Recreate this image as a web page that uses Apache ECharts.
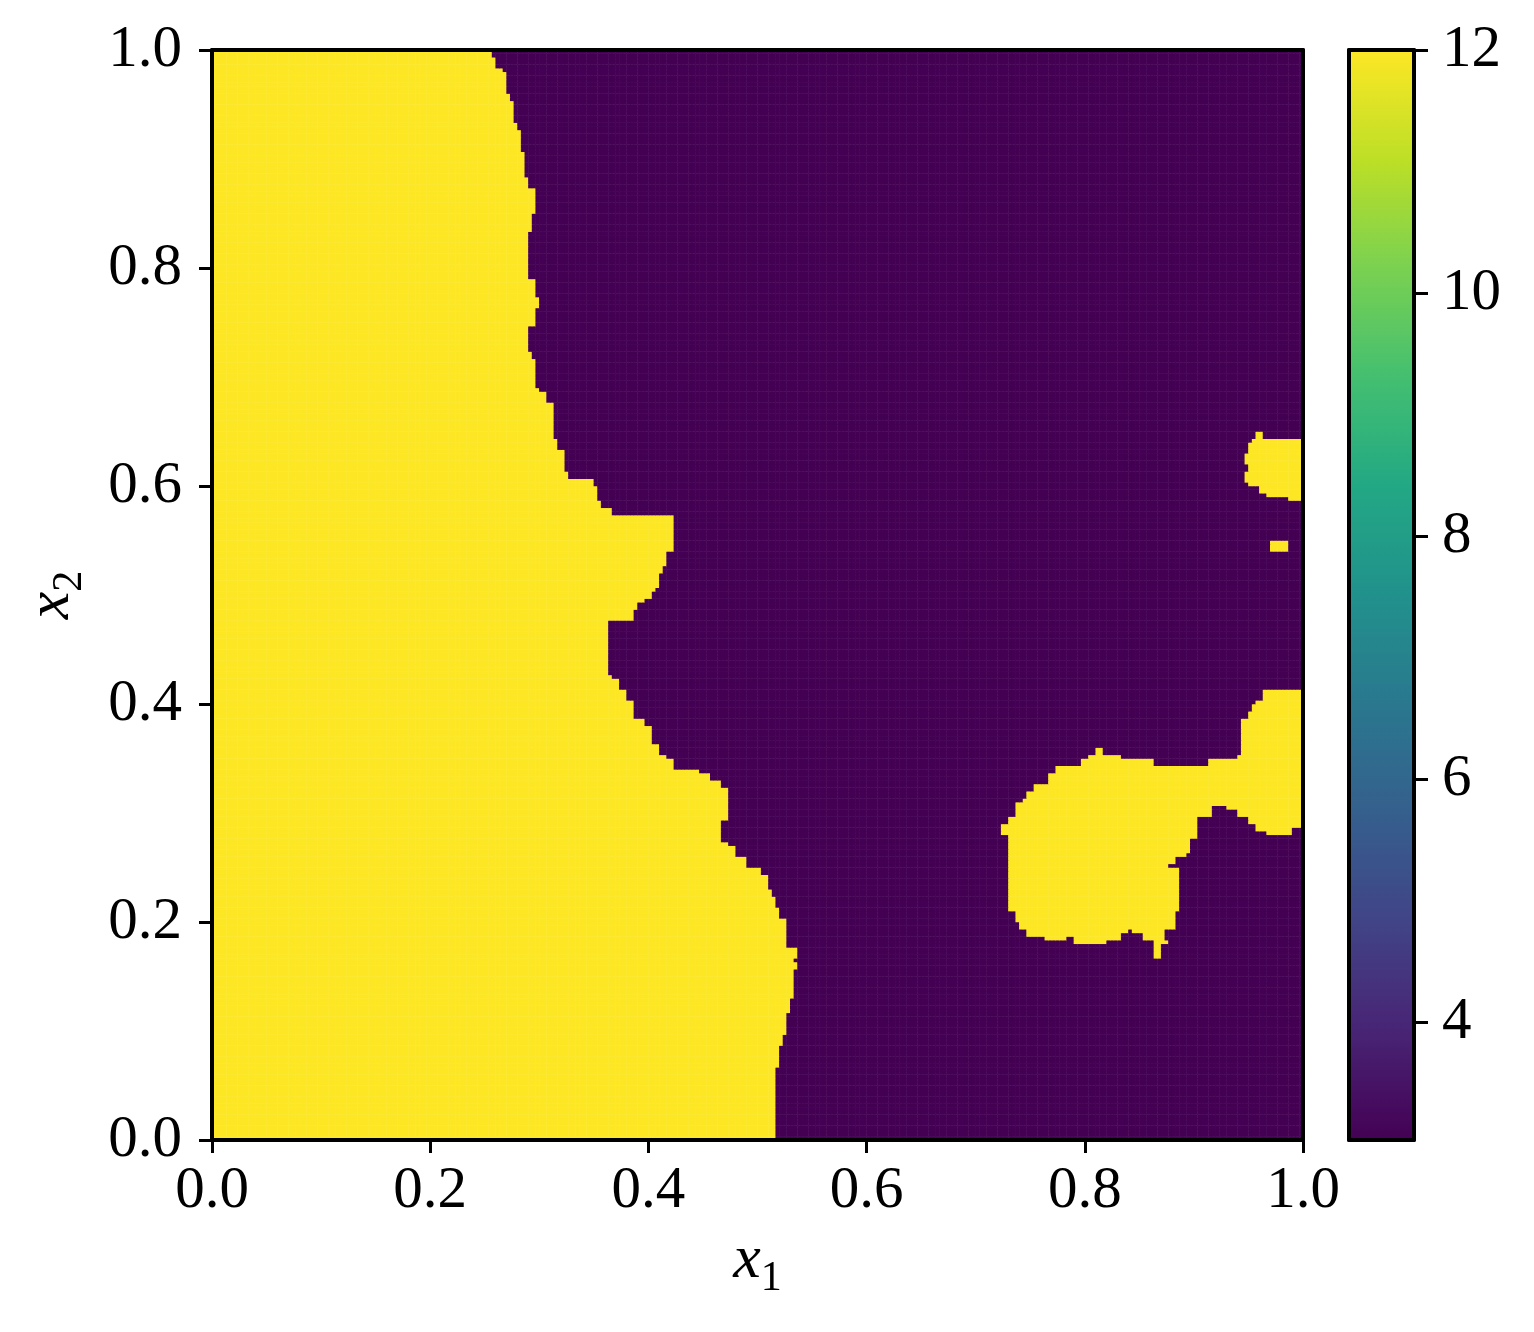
<!DOCTYPE html>
<html><head><meta charset="utf-8">
<script src="https://cdn.jsdelivr.net/npm/echarts@6/dist/echarts.min.js"></script>
<style>html,body{margin:0;padding:0;background:#fff}#c{width:1534px;height:1332px}</style>
</head><body><div id="c"></div>
<script>
// ---------- data ----------
const GRID_N = 300;            // cells per side of the field
const LOW_VALUE = 3.03;        // purple region value
const HIGH_VALUE = 12;         // yellow region value
const xTickValues = [0, 0.2, 0.4, 0.6, 0.8, 1.0];
const yTickValues = [0, 0.2, 0.4, 0.6, 0.8, 1.0];
const colorbarTicks = [4, 6, 8, 10, 12];
const viridis = ['#440154','#482475','#414487','#355f8d','#2a788e','#21918c','#22a884','#44bf70','#7ad151','#bddf26','#fde725'];

// left yellow region: from y (upward to next entry) the region spans x in [0, edge]
const leftEdge = [
[0.000,0.515],[0.028,0.518],[0.057,0.516],[0.067,0.519],[0.087,0.522],[0.098,0.525],[0.117,0.530],[0.131,0.533],
[0.156,0.536],[0.162,0.533],[0.168,0.535],[0.177,0.528],[0.195,0.525],[0.205,0.521],[0.214,0.518],[0.223,0.512],
[0.231,0.510],[0.245,0.502],[0.251,0.489],[0.259,0.479],[0.269,0.472],[0.275,0.468],[0.294,0.472],[0.324,0.466],
[0.330,0.455],[0.337,0.447],[0.341,0.423],[0.349,0.415],[0.355,0.411],[0.365,0.404],[0.379,0.397],[0.388,0.386],
[0.404,0.381],[0.413,0.374],[0.422,0.368],[0.428,0.364],[0.477,0.386],[0.486,0.390],[0.493,0.395],[0.498,0.402],
[0.503,0.406],[0.507,0.410],[0.520,0.413],[0.528,0.418],[0.539,0.423],[0.572,0.365],[0.580,0.358],[0.587,0.354],
[0.599,0.349],[0.606,0.344],[0.608,0.326],[0.613,0.322],[0.635,0.318],[0.645,0.314],[0.665,0.312],[0.677,0.308],
[0.686,0.301],[0.691,0.296],[0.718,0.293],[0.723,0.289],[0.746,0.296],[0.762,0.299],[0.773,0.295],[0.789,0.291],
[0.798,0.289],[0.826,0.290],[0.835,0.292],[0.849,0.295],[0.872,0.291],[0.883,0.288],[0.906,0.284],[0.927,0.280],
[0.934,0.276],[0.952,0.272],[0.961,0.269],[0.980,0.266],[0.985,0.261],[0.993,0.258]
];

// right-side yellow blobs: [yLow, yHigh, [x0, x1, x0, x1, ...]]
const topRightBlob = [
[0.6450,0.6514,[0.958,0.962]],
[0.6404,0.6450,[0.953,1]],
[0.6303,0.6404,[0.950,1]],
[0.6211,0.6303,[0.947,1]],
[0.6147,0.6211,[0.950,1]],
[0.6037,0.6147,[0.947,1]],
[0.5991,0.6037,[0.951,1]],
[0.5945,0.5991,[0.961,1]],
[0.5899,0.5945,[0.967,1]],
[0.5872,0.5899,[0.986,1]],
[0.5385,0.5500,[0.970,0.985]]
];
const bottomRightBlob = [
[0.4128,0.4147,[0.967,1]],
[0.4037,0.4128,[0.962,1]],
[0.3991,0.4037,[0.958,1]],
[0.3945,0.3991,[0.953,1]],
[0.3881,0.3945,[0.949,1]],
[0.3606,0.3881,[0.942,1]],
[0.3550,0.3606,[0.809,0.817,0.942,1]],
[0.3532,0.3550,[0.805,0.834,0.942,1]],
[0.3514,0.3532,[0.805,0.834,0.940,1]],
[0.3495,0.3514,[0.805,0.853,0.940,1]],
[0.3486,0.3495,[0.805,0.864,0.940,1]],
[0.3450,0.3486,[0.798,0.864,0.915,1]],
[0.3422,0.3450,[0.798,0.874,0.887,1]],
[0.3367,0.3422,[0.773,1]],
[0.3257,0.3367,[0.768,1]],
[0.3211,0.3257,[0.754,1]],
[0.3147,0.3211,[0.748,1]],
[0.3092,0.3147,[0.743,1]],
[0.3055,0.3092,[0.738,1]],
[0.3028,0.3055,[0.738,0.918,0.930,1]],
[0.2982,0.3028,[0.738,0.918,0.940,1]],
[0.2963,0.2982,[0.730,0.918,0.940,1]],
[0.2954,0.2963,[0.730,0.918,0.950,1]],
[0.2890,0.2954,[0.730,0.903,0.950,1]],
[0.2862,0.2890,[0.725,0.903,0.958,1]],
[0.2817,0.2862,[0.725,0.903,0.958,0.991]],
[0.2798,0.2817,[0.725,0.903,0.967,0.991]],
[0.2771,0.2798,[0.730,0.903]],
[0.2642,0.2771,[0.730,0.896]],
[0.2596,0.2642,[0.730,0.894]],
[0.2550,0.2596,[0.730,0.883]],
[0.2505,0.2550,[0.730,0.876]],
[0.2413,0.2505,[0.730,0.885]],
[0.2110,0.2413,[0.731,0.885]],
[0.2000,0.2110,[0.736,0.884]],
[0.1945,0.2000,[0.741,0.883]],
[0.1927,0.1945,[0.741,0.872]],
[0.1899,0.1927,[0.748,0.839,0.844,0.872]],
[0.1881,0.1899,[0.748,0.832,0.853,0.872]],
[0.1835,0.1881,[0.764,0.782,0.789,0.832,0.853,0.872]],
[0.1817,0.1835,[0.764,0.782,0.789,0.819,0.853,0.872]],
[0.1789,0.1817,[0.789,0.819,0.862,0.876]],
[0.1670,0.1789,[0.862,0.871]]
];

// ---------- build the cell table ----------
const bands = [];
leftEdge.forEach((e, k) => {
  const yHi = k + 1 < leftEdge.length ? leftEdge[k + 1][0] : 1.0001;
  bands.push([e[0], yHi, [0, e[1]]]);
});
topRightBlob.forEach(b => bands.push(b));
bottomRightBlob.forEach(b => bands.push(b));

const cats = [];
for (let i = 0; i < GRID_N; i++) cats.push(String(i));
const cells = [];
for (let j = 0; j < GRID_N; j++) {
  const y = (j + 0.5) / GRID_N;
  for (let i = 0; i < GRID_N; i++) {
    const x = (i + 0.5) / GRID_N;
    let yellow = false;
    for (const b of bands) {
      if (y >= b[0] && y < b[1]) {
        const xs = b[2];
        for (let k = 0; k < xs.length; k += 2) {
          if (x >= xs[k] && x < xs[k + 1] + 1e-9) { yellow = true; break; }
        }
      }
      if (yellow) break;
    }
    cells.push([i, j, yellow ? HIGH_VALUE : LOW_VALUE]);
  }
}

// ---------- chart ----------
const FONT = 'Liberation Serif';
const LW = 4;
const plot = {left: 212, top: 50, width: 1091, height: 1090};
const cbar = {left: 1349, top: 50, width: 65, height: 1090};
const lineOnly = (extra) => Object.assign({
  axisLine: {show: true, onZero: false, lineStyle: {color: '#000', width: LW}},
  axisTick: {show: false}, axisLabel: {show: false}, splitLine: {show: false}, z: 10
}, extra);

const chart = echarts.init(document.getElementById('c'), null, {renderer: 'canvas'});
chart.setOption({
  animation: false,
  backgroundColor: '#fff',
  textStyle: {fontFamily: FONT},
  grid: [
    Object.assign({}, plot),
    Object.assign({}, plot),
    Object.assign({}, cbar)
  ],
  xAxis: [
    {gridIndex: 0, type: 'category', data: cats, show: false, boundaryGap: true},
    {gridIndex: 1, type: 'value', min: 0, max: 1, interval: 0.2, position: 'bottom', z: 10,
     axisLine: {show: true, onZero: false, lineStyle: {color: '#000', width: LW}},
     axisTick: {show: true, inside: false, length: 13, lineStyle: {color: '#000', width: 3}},
     axisLabel: {show: true, margin: 22, color: '#000', fontFamily: FONT, fontSize: 59,
                 formatter: v => v.toFixed(1)},
     splitLine: {show: false},
     name: '{i|x}{s|1}', nameLocation: 'middle', nameGap: 90,
     nameTextStyle: {rich: {
       i: {fontFamily: FONT, fontStyle: 'italic', fontSize: 62, color: '#000', padding: [0, 0, 8, 0], verticalAlign: 'top'},
       s: {fontFamily: FONT, fontSize: 42, color: '#000', verticalAlign: 'bottom'}
     }}},
    lineOnly({gridIndex: 1, type: 'value', min: 0, max: 1, position: 'top'}),
    lineOnly({gridIndex: 2, type: 'value', min: 0, max: 1, position: 'bottom'}),
    lineOnly({gridIndex: 2, type: 'value', min: 0, max: 1, position: 'top'})
  ],
  yAxis: [
    {gridIndex: 0, type: 'category', data: cats, show: false, boundaryGap: true},
    {gridIndex: 1, type: 'value', min: 0, max: 1, interval: 0.2, position: 'left', z: 10,
     axisLine: {show: true, onZero: false, lineStyle: {color: '#000', width: LW}},
     axisTick: {show: true, inside: false, length: 13, lineStyle: {color: '#000', width: 3}},
     axisLabel: {show: true, margin: 30, color: '#000', fontFamily: FONT, fontSize: 59,
                 formatter: v => v.toFixed(1)},
     splitLine: {show: false},
     name: '{i|x}{s|2}', nameLocation: 'middle', nameGap: 121, nameRotate: 90,
     nameTextStyle: {rich: {
       i: {fontFamily: FONT, fontStyle: 'italic', fontSize: 62, color: '#000', padding: [0, 0, 8, 0], verticalAlign: 'top'},
       s: {fontFamily: FONT, fontSize: 42, color: '#000', verticalAlign: 'bottom'}
     }}},
    lineOnly({gridIndex: 1, type: 'value', min: 0, max: 1, position: 'right'}),
    lineOnly({gridIndex: 2, type: 'value', min: LOW_VALUE, max: HIGH_VALUE, position: 'left'}),
    {gridIndex: 2, type: 'value', min: LOW_VALUE, max: HIGH_VALUE, position: 'right', z: 10,
     axisLine: {show: true, onZero: false, lineStyle: {color: '#000', width: LW}},
     axisTick: {show: true, inside: false, length: 14, customValues: colorbarTicks, lineStyle: {color: '#000', width: 3}},
     axisLabel: {show: true, margin: 28, color: '#000', fontFamily: FONT, fontSize: 59, customValues: colorbarTicks},
     splitLine: {show: false}}
  ],
  visualMap: {
    type: 'continuous', seriesIndex: 0, min: LOW_VALUE, max: HIGH_VALUE,
    inRange: {color: viridis}, calculable: false, hoverLink: false,
    orient: 'vertical', left: cbar.left, top: cbar.top,
    itemWidth: cbar.width, itemHeight: cbar.height, padding: 0, text: null, showLabel: false
  },
  series: [{
    type: 'heatmap', xAxisIndex: 0, yAxisIndex: 0, data: cells,
    progressive: 0, silent: true, emphasis: {disabled: true},
    itemStyle: {borderWidth: 0}
  }]
});
</script>
</body></html>
